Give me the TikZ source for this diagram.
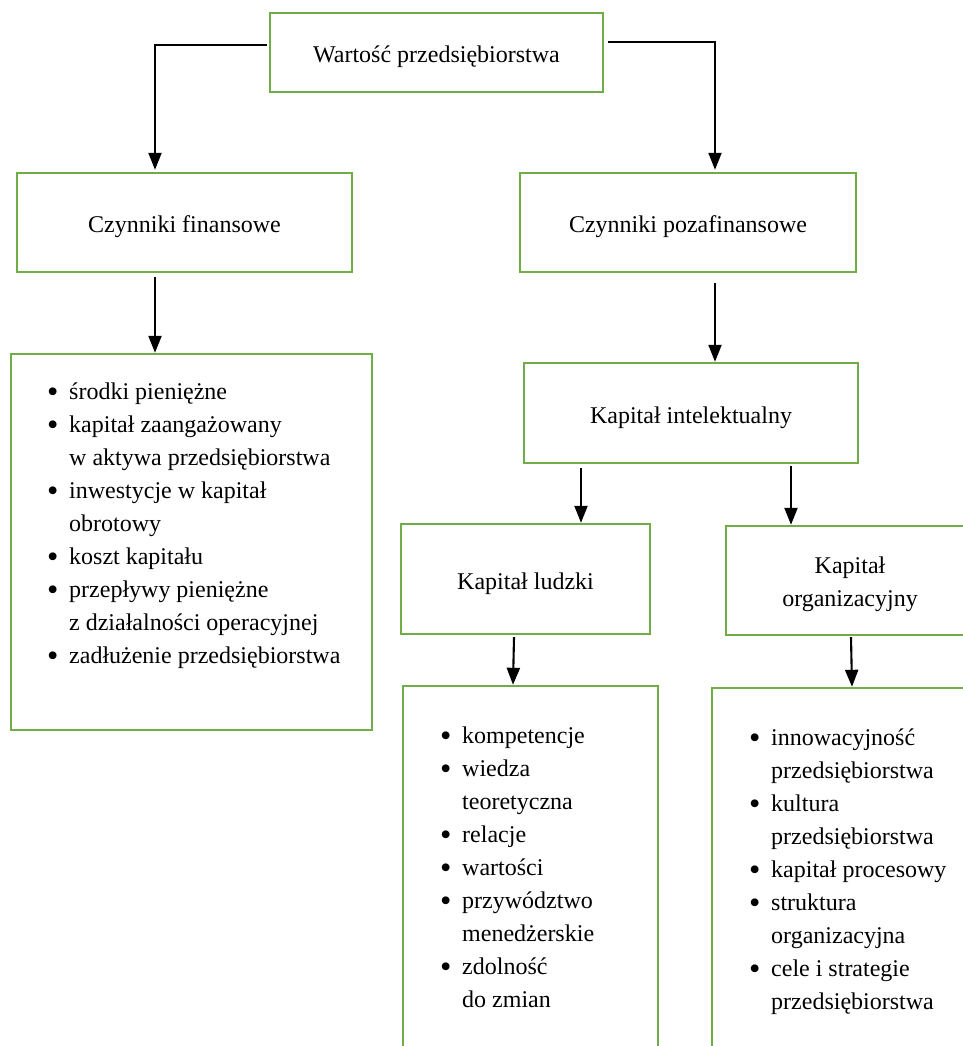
\documentclass[tikz,border=0pt]{standalone}
\usepackage{fontspec}
\setmainfont{Liberation Serif}
\usetikzlibrary{arrows.meta}
\definecolor{zielony}{HTML}{70AD47}

\newcommand{\pkt}{\strut\makebox[22pt][l]{\raisebox{-3.3pt}{\scalebox{1.35}{\textbullet}}}}
\newcommand{\wciecie}{\strut\hspace*{22pt}}

\begin{document}
\begin{tikzpicture}[x=1pt,y=-1pt,
	ramka/.style={draw=zielony, line width=2.4pt, align=center, inner sep=0pt,
		font=\fontsize{24}{33}\selectfont, text height=20pt, text depth=0pt},
	lista/.style={anchor=north west, align=left, inner sep=0pt,
		font=\fontsize{24}{33}\selectfont},
	strz/.style={line width=2.1pt, -{Triangle[width=13pt,length=17pt]}}]
	\useasboundingbox (0,0) rectangle (963,1046);
	\clip (0,0) rectangle (963,1046);

	\node [ramka, minimum width=333, minimum height=79] (wart) at (436.5,52.5) {Wartość przedsiębiorstwa};
	\node [ramka, minimum width=335, minimum height=99] (fin) at (184.5,222.5) {Czynniki finansowe};
	\node [ramka, minimum width=336, minimum height=99] (pozafin) at (688,222.5) {Czynniki pozafinansowe};
	\node [ramka, minimum width=361, minimum height=376] (finbox) at (191.5,542) {};
	\node [ramka, minimum width=334, minimum height=100] (intel) at (691,413) {Kapitał intelektualny};
	\node [ramka, minimum width=249, minimum height=110] (ludzki) at (525.5,579) {Kapitał ludzki};
	\node [ramka, minimum width=248, minimum height=109, text height=51pt] (org) at (850,580.5) {Kapitał\\organizacyjny};
	\node [ramka, minimum width=255, minimum height=414] (ludzbox) at (530.5,893) {};
	\node [ramka, minimum width=278, minimum height=412] (orgbox) at (851,894) {};

	\node [lista] (finlista) at (47,376) {\pkt środki pieniężne\\
		\pkt kapitał zaangażowany\\
		\wciecie w aktywa przedsiębiorstwa\\
		\pkt inwestycje w kapitał\\
		\wciecie obrotowy\\
		\pkt koszt kapitału\\
		\pkt przepływy pieniężne\\
		\wciecie z działalności operacyjnej\\
		\pkt zadłużenie przedsiębiorstwa};
	\node [lista] (ludzlista) at (440,720) {\pkt kompetencje\\
		\pkt wiedza\\
		\wciecie teoretyczna\\
		\pkt relacje\\
		\pkt wartości\\
		\pkt przywództwo\\
		\wciecie menedżerskie\\
		\pkt zdolność\\
		\wciecie do zmian};
	\node [lista] (orglista) at (749,722) {\pkt innowacyjność\\
		\wciecie przedsiębiorstwa\\
		\pkt kultura\\
		\wciecie przedsiębiorstwa\\
		\pkt kapitał procesowy\\
		\pkt struktura\\
		\wciecie organizacyjna\\
		\pkt cele i strategie\\
		\wciecie przedsiębiorstwa};

	\draw [strz] ([xshift=-2pt,yshift=7.5pt]wart.west) -| ([xshift=-29.5pt,yshift=2pt]fin.north);
	\draw [strz] ([xshift=4pt,yshift=10.5pt]wart.east) -| ([xshift=27pt,yshift=2pt]pozafin.north);
	\draw [strz] ([xshift=-29.5pt,yshift=-4pt]fin.south) -- ([xshift=-36.5pt]finbox.north);
	\draw [strz] ([xshift=27pt,yshift=-10pt]pozafin.south) -- ([xshift=24pt]intel.north);
	\draw [strz] ([xshift=-110pt,yshift=-4pt]intel.south) -- ([xshift=55.5pt]ludzki.north);
	\draw [strz] ([xshift=100pt,yshift=-2pt]intel.south) -- ([xshift=-59pt]org.north);
	\draw [strz] ([xshift=-11.5pt,yshift=-2pt]ludzki.south) -- ([xshift=-17.5pt]ludzbox.north);
	\draw [strz] ([xshift=1pt,yshift=-1pt]org.south) -- ([xshift=1pt]orgbox.north);
\end{tikzpicture}
\end{document}
